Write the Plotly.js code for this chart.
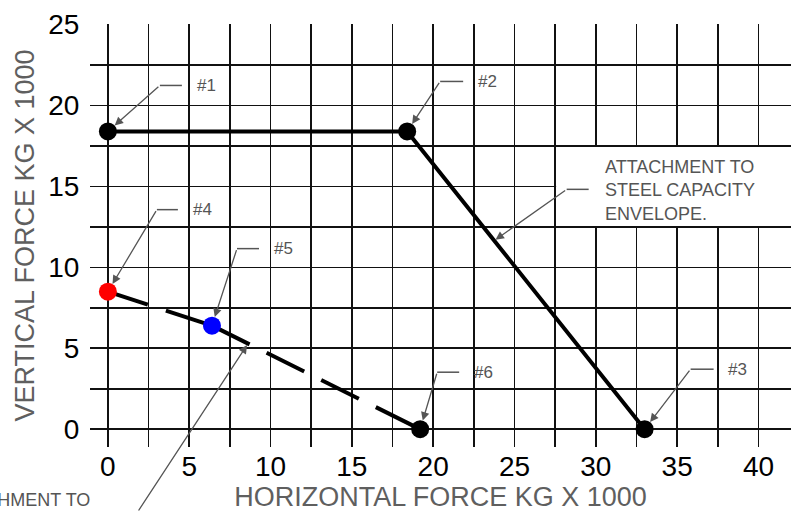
<!DOCTYPE html>
<html>
<head>
<meta charset="utf-8">
<script src="https://cdn.plot.ly/plotly-3.0.1.min.js"></script>
<style>
html,body{margin:0;padding:0;background:#fff;}
#chart{width:791px;height:512px;}
</style>
</head>
<body>
<div id="chart"></div>
<script>
// ---- data ----
const steelX = [0, 18.4, 33];
const steelY = [18.4, 18.4, 0];
const steelLabels = ['#1', '#2', '#3'];

const concX = [0, 6.4, 19.2];
const concY = [8.5, 6.4, 0];
const concLabels = ['#4', '#5', '#6'];
const concColors = ['#ff0000', '#0000ff', '#000000'];

const xTicks = [0, 5, 10, 15, 20, 25, 30, 35, 40];
const yTicks = [0, 5, 10, 15, 20, 25];

const steelNote = 'ATTACHMENT TO<br>STEEL CAPACITY<br>ENVELOPE.';
const steelNoteAt = [23.78, 11.67];
const concNote = 'ATTACHMENT TO';
const concNoteAt = [8.59, 5.25];

// ---- layout helpers ----
const FONT = 'Liberation Sans, Arial, sans-serif';
const GRAY = '#555555';
// leader geometry (screen px offsets from the marked point): elbow dx, elbow dy, end of horizontal, text centre
const leaders = [
  {x: steelX[0], y: steelY[0], t: steelLabels[0], ex: 52, ey: -46, hx: 74, tx: 99},
  {x: steelX[1], y: steelY[1], t: steelLabels[1], ex: 33, ey: -50, hx: 56, tx: 80},
  {x: steelX[2], y: steelY[2], t: steelLabels[2], ex: 46, ey: -60, hx: 69, tx: 93},
  {x: concX[0], y: concY[0], t: concLabels[0], ex: 49, ey: -82, hx: 70, tx: 95},
  {x: concX[1], y: concY[1], t: concLabels[1], ex: 25, ey: -77, hx: 47, tx: 72},
  {x: concX[2], y: concY[2], t: concLabels[2], ex: 17, ey: -57, hx: 39, tx: 63}
];

const traces = [];
traces.push({
  x: steelX, y: steelY, type: 'scatter', mode: 'lines+markers',
  line: {color: '#000', width: 4},
  marker: {color: '#000', size: 18},
  hoverinfo: 'skip', showlegend: false, cliponaxis: false
});
for (let i = 0; i < concX.length - 1; i++) {
  traces.push({
    x: concX.slice(i, i + 2), y: concY.slice(i, i + 2), type: 'scatter', mode: 'lines',
    line: {color: '#000', width: 4, dash: '42px,19px'},
    hoverinfo: 'skip', showlegend: false
  });
}
traces.push({
  x: concX, y: concY, type: 'scatter', mode: 'markers',
  marker: {color: concColors, size: 18},
  hoverinfo: 'skip', showlegend: false, cliponaxis: false
});

const annotations = [];
const shapes = [];
leaders.forEach(L => {
  annotations.push({
    x: L.x, y: L.y, xref: 'x', yref: 'y', text: '', showarrow: true,
    ax: L.ex, ay: L.ey, arrowcolor: GRAY, arrowwidth: 1.3, arrowhead: 2, arrowsize: 1.3, standoff: 9
  });
  shapes.push({
    type: 'line', xref: 'x', yref: 'y', xsizemode: 'pixel', ysizemode: 'pixel',
    xanchor: L.x, yanchor: L.y, x0: L.ex, x1: L.hx, y0: -L.ey, y1: -L.ey,
    line: {color: GRAY, width: 1.5}, layer: 'above'
  });
  annotations.push({
    x: L.x, y: L.y, xref: 'x', yref: 'y', text: L.t, showarrow: false,
    xshift: L.tx, yshift: -L.ey, xanchor: 'center', yanchor: 'middle',
    font: {family: FONT, size: 17, color: GRAY}
  });
});

// steel envelope note
annotations.push({
  x: steelNoteAt[0], y: steelNoteAt[1], xref: 'x', yref: 'y', text: '', showarrow: true,
  ax: 72, ay: -51, arrowcolor: GRAY, arrowwidth: 1.3, arrowhead: 2, arrowsize: 1.3, standoff: 1
});
shapes.push({
  type: 'line', xref: 'x', yref: 'y', xsizemode: 'pixel', ysizemode: 'pixel',
  xanchor: steelNoteAt[0], yanchor: steelNoteAt[1], x0: 72, x1: 94, y0: 51, y1: 51,
  line: {color: GRAY, width: 1.5}, layer: 'above'
});
annotations.push({
  x: steelNoteAt[0], y: steelNoteAt[1], xref: 'x', yref: 'y', text: steelNote, showarrow: false,
  xshift: 108, yshift: 50, xanchor: 'left', yanchor: 'middle', align: 'left',
  font: {family: FONT, size: 18, color: GRAY}
});
// white box behind the note
shapes.push({
  type: 'rect', xref: 'x', yref: 'y', x0: 27.56, x1: 45, y0: 12.56, y1: 17.44,
  fillcolor: '#ffffff', line: {width: 0}, layer: 'between'
});

// concrete envelope note (mostly outside the frame, as in the drawing)
annotations.push({
  x: concNoteAt[0], y: concNoteAt[1], xref: 'x', yref: 'y', text: '', showarrow: true,
  ax: -110, ay: 183, arrowcolor: GRAY, arrowwidth: 1.3, arrowhead: 2, arrowsize: 1.3, standoff: 1
});
annotations.push({
  x: concNoteAt[0], y: concNoteAt[1], xref: 'x', yref: 'y', text: concNote, showarrow: false,
  xshift: -156, yshift: -156, xanchor: 'right', yanchor: 'middle', align: 'right',
  font: {family: FONT, size: 18, color: GRAY}
});

const layout = {
  width: 791, height: 512,
  margin: {l: 90, r: 0, t: 24, b: 65, pad: 0},
  paper_bgcolor: '#fff', plot_bgcolor: '#fff',
  showlegend: false,
  xaxis: {
    range: [-1.1, 42.0], tickvals: xTicks, ticktext: xTicks.map(String),
    showgrid: true, gridcolor: '#111', gridwidth: 1.6, zeroline: false, showline: false, ticks: '',
    minor: {dtick: 2.5, tick0: 0, showgrid: true, gridcolor: '#111', gridwidth: 1.6},
    tickfont: {family: FONT, size: 28, color: '#000'},
    title: {text: 'HORIZONTAL FORCE KG X 1000', font: {family: FONT, size: 27, color: '#5f5f5f'}, standoff: 10},
    automargin: false, fixedrange: true
  },
  yaxis: {
    range: [-1.1, 25.04], tickvals: yTicks, ticktext: yTicks.map(String),
    showgrid: true, gridcolor: '#111', gridwidth: 1.6, zeroline: false, showline: false,
    ticks: 'outside', ticklen: 4, tickcolor: 'rgba(0,0,0,0)',
    minor: {dtick: 2.5, tick0: 0, showgrid: true, gridcolor: '#111', gridwidth: 1.6},
    tickfont: {family: FONT, size: 28, color: '#000'},
    title: {text: 'VERTICAL FORCE KG X 1000', font: {family: FONT, size: 27, color: '#5f5f5f'}, standoff: 5},
    automargin: false, fixedrange: true
  },
  annotations: annotations,
  shapes: shapes
};

Plotly.newPlot('chart', traces, layout, {staticPlot: true, displayModeBar: false});
</script>
</body>
</html>
